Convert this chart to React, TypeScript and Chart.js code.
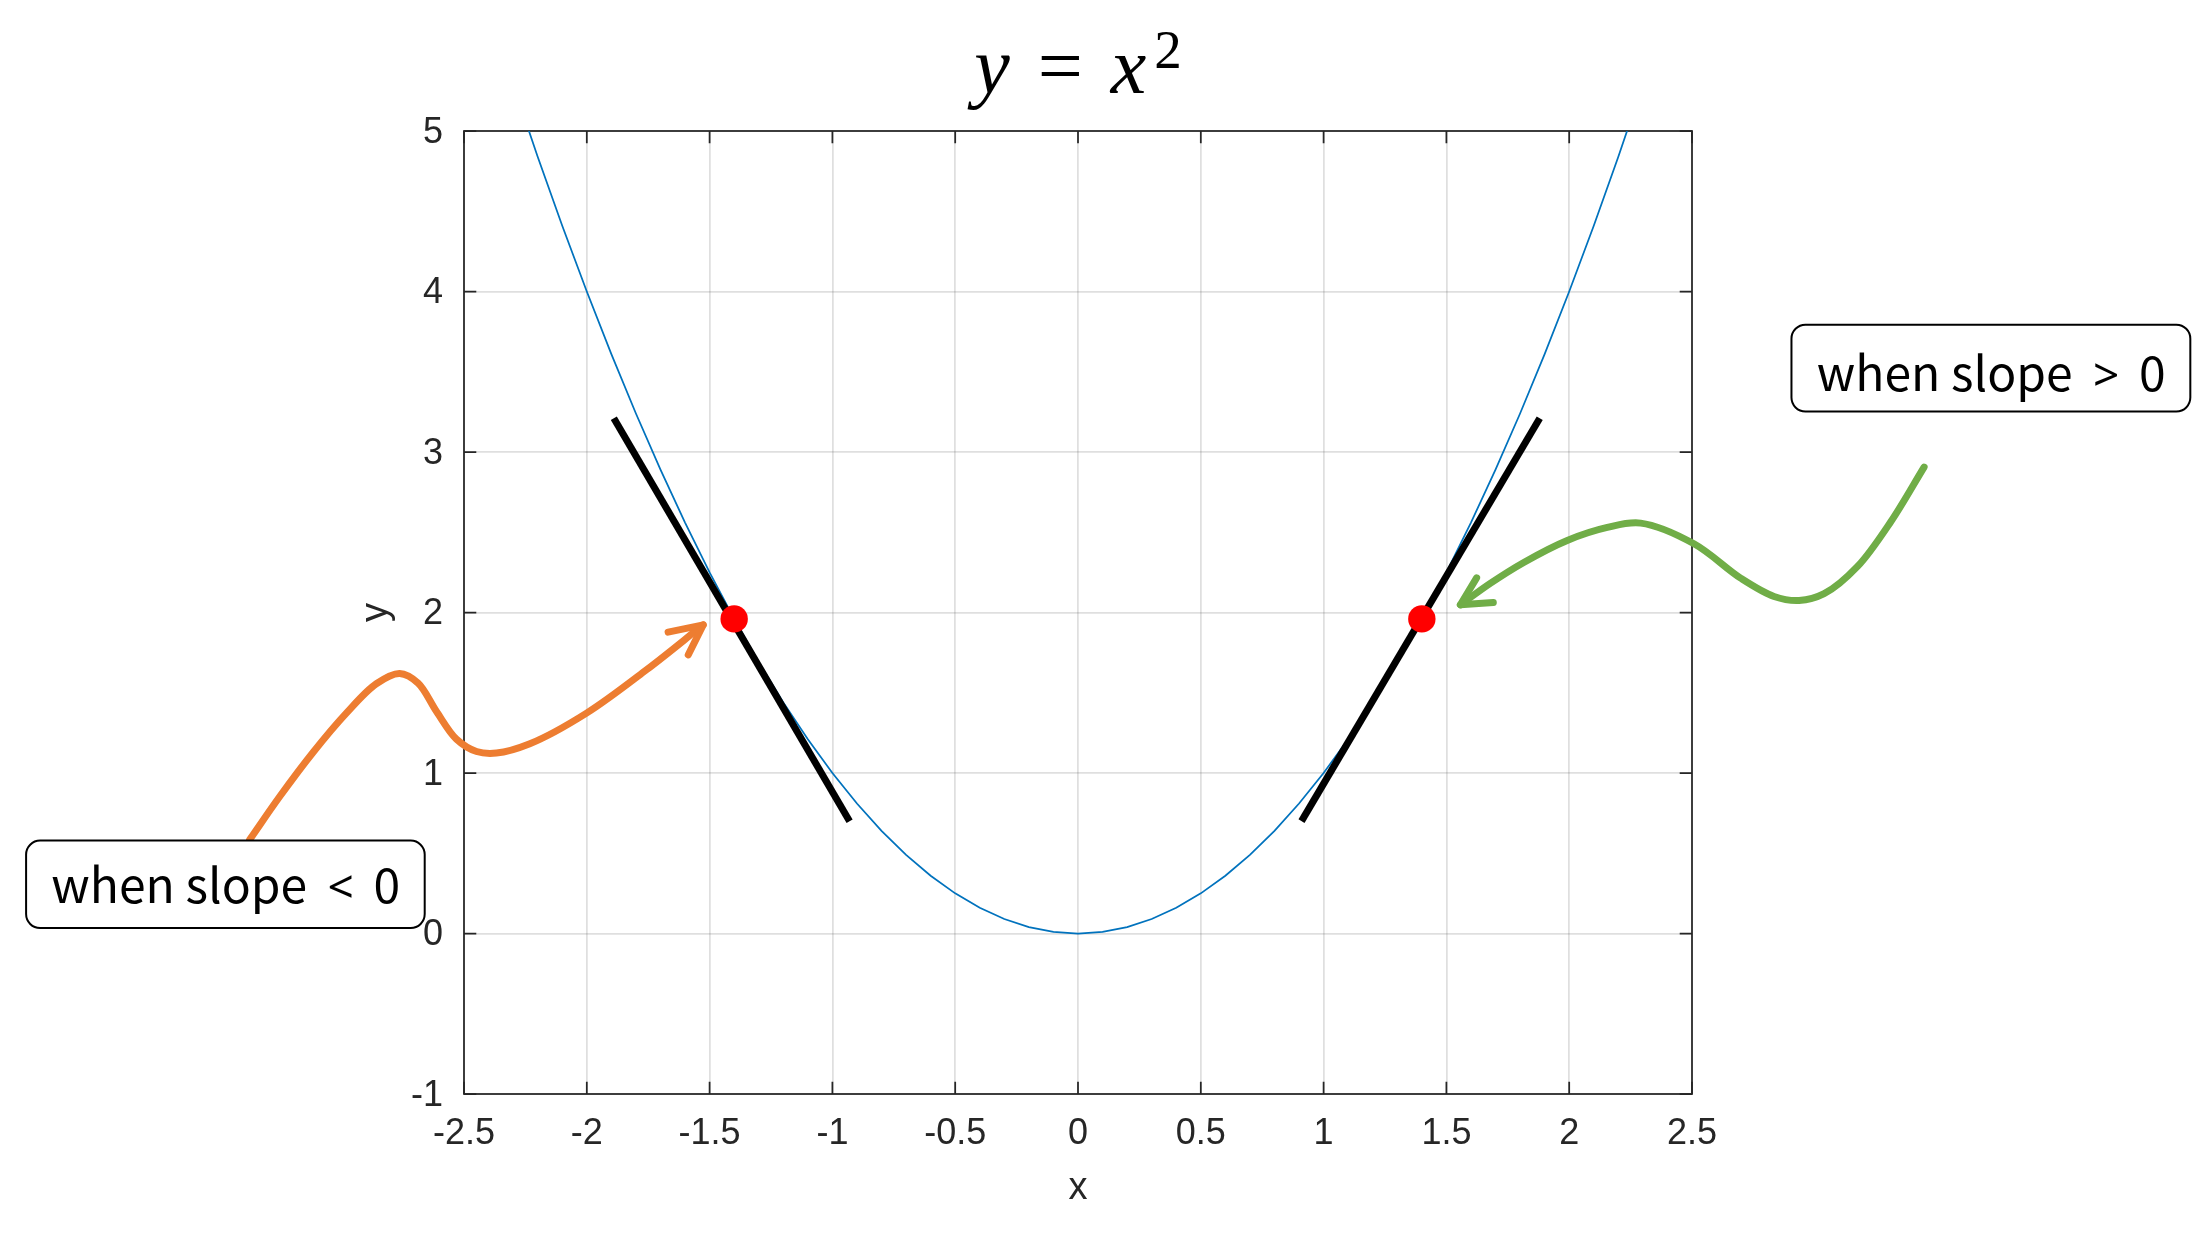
import React, { useEffect, useRef } from 'react';
import { Chart, registerables } from 'chart.js';

Chart.register(...registerables);

// ---- data ----
const curveX = [
  -2.3, -2.2, -2.1, -2.0, -1.9, -1.8, -1.7, -1.6, -1.5, -1.4, -1.3, -1.2, -1.1, -1.0,
  -0.9, -0.8, -0.7, -0.6, -0.5, -0.4, -0.3, -0.2, -0.1, 0,
  0.1, 0.2, 0.3, 0.4, 0.5, 0.6, 0.7, 0.8, 0.9, 1.0, 1.1, 1.2, 1.3, 1.4, 1.5, 1.6, 1.7,
  1.8, 1.9, 2.0, 2.1, 2.2, 2.3,
];
const curveY = [
  5.29, 4.84, 4.41, 4.0, 3.61, 3.24, 2.89, 2.56, 2.25, 1.96, 1.69, 1.44, 1.21, 1.0,
  0.81, 0.64, 0.49, 0.36, 0.25, 0.16, 0.09, 0.04, 0.01, 0,
  0.01, 0.04, 0.09, 0.16, 0.25, 0.36, 0.49, 0.64, 0.81, 1.0, 1.21, 1.44, 1.69, 1.96, 2.25,
  2.56, 2.89, 3.24, 3.61, 4.0, 4.41, 4.84, 5.29,
];
const tangentLeftX = [-1.89, -0.93];
const tangentLeftY = [3.21, 0.7];
const tangentRightX = [0.91, 1.88];
const tangentRightY = [0.7, 3.21];
const pointX = [-1.4, 1.4];
const pointY = [1.96, 1.96];

const xTicks = [-2.5, -2, -1.5, -1, -0.5, 0, 0.5, 1, 1.5, 2, 2.5];
const xTickLabels = ['-2.5', '-2', '-1.5', '-1', '-0.5', '0', '0.5', '1', '1.5', '2', '2.5'];
const yTicks = [-1, 0, 1, 2, 3, 4, 5];
const yTickLabels = ['-1', '0', '1', '2', '3', '4', '5'];

// annotation paths, in data units (extending past the axes)
const orangeArrowX = [-3.373, -3.251, -3.115, -2.979, -2.857, -2.762, -2.687, -2.612, -2.531, -2.449, -2.368, -2.232, -2.001, -1.757, -1.526];
const orangeArrowY = [0.584, 0.852, 1.128, 1.373, 1.556, 1.62, 1.56, 1.383, 1.211, 1.134, 1.124, 1.182, 1.373, 1.643, 1.923];
const orangeHeadX = [-1.669, -1.526, -1.587];
const orangeHeadY = [1.878, 1.923, 1.736];

const greenArrowX = [3.445, 3.31, 3.174, 3.038, 2.936, 2.834, 2.698, 2.508, 2.291, 2.155, 1.992, 1.815, 1.68, 1.557];
const greenArrowY = [2.906, 2.567, 2.287, 2.117, 2.075, 2.1, 2.214, 2.428, 2.557, 2.53, 2.449, 2.312, 2.183, 2.048];
const greenHeadX = [1.623, 1.557, 1.691];
const greenHeadY = [2.216, 2.048, 2.062];

const leftBoxX = [-4.283, -2.66];
const leftBoxY = [0.579, 0.034];
const leftBoxText = ['when slope', '<', '0'];
const rightBoxX = [2.905, 4.529];
const rightBoxY = [3.793, 3.252];
const rightBoxText = ['when slope', '>', '0'];

const titleParts = ['y', '=', 'x', '2'];

const AXIS_COLOR = '#262626';

function zip(xs: number[], ys: number[]) {
  return xs.map((x, i) => ({ x, y: ys[i] }));
}

// centripetal Catmull-Rom through the points
function pathThrough(ctx: CanvasRenderingContext2D, pts: number[][]) {
  const dist = (a: number[], b: number[]) => Math.sqrt(Math.hypot(a[0] - b[0], a[1] - b[1]));
  ctx.moveTo(pts[0][0], pts[0][1]);
  for (let i = 0; i < pts.length - 1; i++) {
    const p0 = pts[Math.max(0, i - 1)];
    const p1 = pts[i];
    const p2 = pts[i + 1];
    const p3 = pts[Math.min(pts.length - 1, i + 2)];
    const d1 = dist(p0, p1);
    const d2 = dist(p1, p2);
    const d3 = dist(p2, p3);
    let c1 = p1;
    let c2 = p2;
    if (d1 > 1e-6) {
      const k = 3 * d1 * (d1 + d2);
      const a = 2 * d1 * d1 + 3 * d1 * d2 + d2 * d2;
      c1 = [
        (d1 * d1 * p2[0] - d2 * d2 * p0[0] + a * p1[0]) / k,
        (d1 * d1 * p2[1] - d2 * d2 * p0[1] + a * p1[1]) / k,
      ];
    } else {
      c1 = [p1[0] + (p2[0] - p1[0]) / 3, p1[1] + (p2[1] - p1[1]) / 3];
    }
    if (d3 > 1e-6) {
      const k = 3 * d3 * (d3 + d2);
      const a = 2 * d3 * d3 + 3 * d3 * d2 + d2 * d2;
      c2 = [
        (d3 * d3 * p1[0] - d2 * d2 * p3[0] + a * p2[0]) / k,
        (d3 * d3 * p1[1] - d2 * d2 * p3[1] + a * p2[1]) / k,
      ];
    } else {
      c2 = [p2[0] - (p2[0] - p1[0]) / 3, p2[1] - (p2[1] - p1[1]) / 3];
    }
    ctx.bezierCurveTo(c1[0], c1[1], c2[0], c2[1], p2[0], p2[1]);
  }
}

const framePlugin = {
  id: 'frame',
  beforeDatasetsDraw(chart: any) {
    const { ctx, chartArea } = chart;
    const { left, right, top, bottom } = chartArea;
    const xs = chart.scales.x;
    const ys = chart.scales.y;
    const tl = 12.3;
    ctx.save();
    ctx.strokeStyle = AXIS_COLOR;
    ctx.lineWidth = 1.75;
    ctx.beginPath();
    for (const v of xTicks) {
      const px = xs.getPixelForValue(v);
      ctx.moveTo(px, bottom);
      ctx.lineTo(px, bottom - tl);
      ctx.moveTo(px, top);
      ctx.lineTo(px, top + tl);
    }
    for (const v of yTicks) {
      const py = ys.getPixelForValue(v);
      ctx.moveTo(left, py);
      ctx.lineTo(left + tl, py);
      ctx.moveTo(right, py);
      ctx.lineTo(right - tl, py);
    }
    ctx.stroke();
    ctx.strokeRect(left, top, right - left, bottom - top);
    ctx.restore();
  },
};

const overlayPlugin = {
  id: 'overlay',
  afterDraw(chart: any) {
    const { ctx, chartArea } = chart;
    const xs = chart.scales.x;
    const ys = chart.scales.y;
    const P = (x: number, y: number) => [xs.getPixelForValue(x), ys.getPixelForValue(y)];

    // title
    ctx.save();
    ctx.fillStyle = '#000';
    ctx.textBaseline = 'alphabetic';
    const fonts = [
      'italic 80px "Liberation Serif"',
      '80px "Liberation Serif"',
      'italic 80px "Liberation Serif"',
      '55px "Liberation Serif"',
    ];
    const gaps = [28, 28, 8, 0];
    const rises = [0, 0, 0, 25];
    const widths = titleParts.map((t, i) => {
      ctx.font = fonts[i];
      return ctx.measureText(t).width;
    });
    const total = widths.reduce((a, b) => a + b, 0) + gaps.reduce((a, b) => a + b, 0);
    let cx = (chartArea.left + chartArea.right) / 2 - total / 2;
    const baseY = 93.3;
    titleParts.forEach((t, i) => {
      ctx.font = fonts[i];
      ctx.fillText(t, cx, baseY - rises[i]);
      cx += widths[i] + gaps[i];
    });
    ctx.restore();

    // arrows
    const drawArrow = (ax: number[], ay: number[], hx: number[], hy: number[], color: string) => {
      ctx.save();
      ctx.strokeStyle = color;
      ctx.lineWidth = 7;
      ctx.lineCap = 'round';
      ctx.lineJoin = 'round';
      ctx.beginPath();
      pathThrough(ctx, ax.map((x, i) => P(x, ay[i])));
      ctx.stroke();
      ctx.beginPath();
      hx.forEach((x, i) => {
        const [px, py] = P(x, hy[i]);
        if (i === 0) ctx.moveTo(px, py);
        else ctx.lineTo(px, py);
      });
      ctx.stroke();
      ctx.restore();
    };
    drawArrow(orangeArrowX, orangeArrowY, orangeHeadX, orangeHeadY, '#ED7D31');
    drawArrow(greenArrowX, greenArrowY, greenHeadX, greenHeadY, '#70AD47');

    // boxes
    const pieceFonts = ['48px "Noto Sans CJK KR"', '46px "Noto Sans"', '48px "Noto Sans CJK KR"'];
    const drawBox = (bx: number[], by: number[], parts: string[], baseOff: number) => {
      const [x1, y1] = P(bx[0], by[0]);
      const [x2, y2] = P(bx[1], by[1]);
      ctx.save();
      ctx.beginPath();
      ctx.roundRect(x1, y1, x2 - x1, y2 - y1, 14);
      ctx.fillStyle = '#fff';
      ctx.fill();
      ctx.strokeStyle = '#000';
      ctx.lineWidth = 2;
      ctx.stroke();
      ctx.fillStyle = '#000';
      ctx.textAlign = 'left';
      ctx.textBaseline = 'alphabetic';
      const gap = 24;
      const ink = parts.map((t, i) => {
        ctx.font = pieceFonts[i];
        const m = ctx.measureText(t);
        return { l: m.actualBoundingBoxLeft, r: m.actualBoundingBoxRight };
      });
      const total = ink.reduce((s, m) => s + m.l + m.r, 0) + gap * (parts.length - 1);
      let x = (x1 + x2) / 2 - total / 2;
      const base = (y1 + y2) / 2 + baseOff;
      parts.forEach((t, i) => {
        ctx.font = pieceFonts[i];
        ctx.fillText(t, x + ink[i].l, base);
        x += ink[i].l + ink[i].r + gap;
      });
      ctx.restore();
    };
    drawBox(leftBoxX, leftBoxY, leftBoxText, 19);
    drawBox(rightBoxX, rightBoxY, rightBoxText, 23);
  },
};

export default function App() {
  const ref = useRef<HTMLCanvasElement>(null);
  useEffect(() => {
    const canvas = ref.current!;
    const tickFont = { family: '"Liberation Sans", Arial, sans-serif', size: 36 };
    const labelFont = { family: '"Liberation Sans", Arial, sans-serif', size: 38 };
    const chart = new Chart(canvas, {
      type: 'line',
      data: {
        datasets: [
          {
            data: zip(curveX, curveY),
            borderColor: '#0072BD',
            borderWidth: 1.75,
            pointRadius: 0,
            tension: 0,
            order: 3,
          },
          {
            data: zip(tangentLeftX, tangentLeftY),
            borderColor: '#000000',
            borderWidth: 7,
            borderCapStyle: 'butt',
            pointRadius: 0,
            order: 2,
          },
          {
            data: zip(tangentRightX, tangentRightY),
            borderColor: '#000000',
            borderWidth: 7,
            borderCapStyle: 'butt',
            pointRadius: 0,
            order: 2,
          },
          {
            data: zip(pointX, pointY),
            showLine: false,
            pointRadius: 13.7,
            pointBackgroundColor: '#FF0000',
            pointBorderWidth: 0,
            borderWidth: 0,
            order: 1,
          },
        ],
      } as any,
      options: {
        responsive: false,
        animation: false,
        devicePixelRatio: 1,
        events: [],
        layout: { padding: { left: 300, right: 519, top: 131, bottom: 0 } },
        plugins: {
          legend: { display: false },
          tooltip: { enabled: false },
          title: { display: false },
        },
        scales: {
          x: {
            type: 'linear',
            min: -2.5,
            max: 2.5,
            afterBuildTicks: (scale: any) => {
              scale.ticks = xTicks.map((v) => ({ value: v }));
            },
            afterFit: (scale: any) => {
              scale.height = 154;
            },
            ticks: {
              callback: (_v: any, i: number) => xTickLabels[i],
              font: tickFont,
              color: AXIS_COLOR,
              padding: 18,
              maxRotation: 0,
              autoSkip: false,
            },
            grid: {
              color: 'rgba(38,38,38,0.15)',
              lineWidth: 1.75,
              drawTicks: false,
            },
            border: { display: false },
            title: {
              display: true,
              text: 'x',
              font: labelFont,
              color: AXIS_COLOR,
              padding: { top: 0, bottom: 37 },
            },
          },
          y: {
            type: 'linear',
            min: -1,
            max: 5,
            afterBuildTicks: (scale: any) => {
              scale.ticks = yTicks.map((v) => ({ value: v }));
            },
            afterFit: (scale: any) => {
              scale.width = 164;
            },
            ticks: {
              callback: (_v: any, i: number) => yTickLabels[i],
              font: tickFont,
              color: AXIS_COLOR,
              padding: 21,
              labelOffset: 2,
              autoSkip: false,
            },
            grid: {
              color: 'rgba(38,38,38,0.15)',
              lineWidth: 1.75,
              drawTicks: false,
            },
            border: { display: false },
            title: {
              display: true,
              text: 'y',
              font: labelFont,
              color: AXIS_COLOR,
              padding: { top: 54, bottom: 0 },
            },
          },
        },
      } as any,
      plugins: [framePlugin, overlayPlugin],
    });
    return () => chart.destroy();
  }, []);
  return (
    <div style={{ position: 'fixed', left: 0, top: 0, width: 2211, height: 1248, background: '#fff' }}>
      <canvas ref={ref} width={2211} height={1248} style={{ display: 'block', width: 2211, height: 1248 }} />
    </div>
  );
}
